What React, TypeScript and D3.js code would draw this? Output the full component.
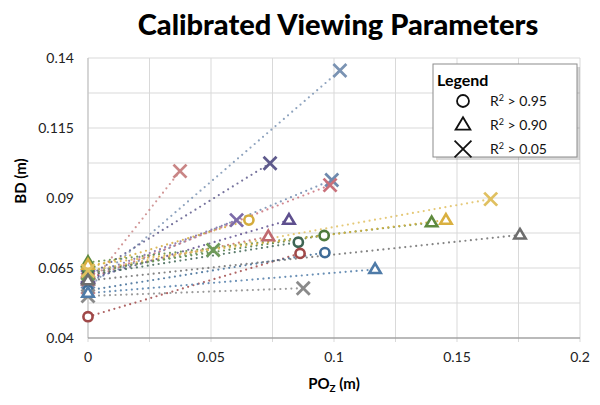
import React from "react";
import * as d3 from "d3";

const seriesMarker = ["x","x","x","x","x","x","o","t","t","o","o","o","o","x","x","t","t","t","x","t"];
const startY = [0.058,0.058,0.062,0.060,0.061,0.062,0.065,0.061,0.063,0.064,0.0625,0.0476,0.057,0.055,0.063,0.056,0.067,0.066,0.064,0.0605];
const endX = [0.1024,0.0374,0.074,0.0991,0.0984,0.0604,0.0654,0.0817,0.0733,0.096,0.0855,0.0862,0.0963,0.0875,0.0509,0.1167,0.1397,0.1455,0.1637,0.1756];
const endY = [0.1355,0.0996,0.1024,0.0964,0.0946,0.0821,0.0821,0.0821,0.0762,0.0766,0.0742,0.0702,0.0705,0.0578,0.0714,0.0645,0.0812,0.0821,0.0896,0.0768];
const palette = ["#7A93B3","#C98585","#5E5A8C","#6F8AAE","#C9707A","#7C6BA8","#D4AC3C","#5E4F8E","#C06A70","#4E7A3C","#3E6554","#A04848","#3F6C97","#8A8A8A","#6E9A5A","#4F7BA8","#5E8A3E","#D9B040","#E0C060","#6E6E6E"];
const xTicks = [0, 0.05, 0.1, 0.15, 0.2];
const yTicks = [0.04, 0.065, 0.09, 0.115, 0.14];
const legendLabels = ["0.95", "0.90", "0.05"];
const legendMarkers = ["o", "t", "x"];

function Marker({ type, x, y, color, s = 1, sw }: { type: string; x: number; y: number; color: string; s?: number; sw?: number }) {
  if (type === "o") {
    return <circle cx={x} cy={y} r={4.6 * s} fill="white" stroke={color} strokeWidth={sw ?? 2.6} />;
  }
  if (type === "t") {
    const r = 6 * s;
    const pts = [[x, y - r], [x + r * 0.95, y + r * 0.6], [x - r * 0.95, y + r * 0.6]];
    return <polygon points={pts.map(p => p.join(",")).join(" ")} fill="white" stroke={color} strokeWidth={sw ?? 2.6} strokeLinejoin="miter" />;
  }
  const h = 6.5 * s;
  return (
    <g stroke={color} strokeWidth={sw ?? 2.8} strokeLinecap="butt">
      <line x1={x - h} y1={y - h} x2={x + h} y2={y + h} />
      <line x1={x - h} y1={y + h} x2={x + h} y2={y - h} />
    </g>
  );
}

export default function App() {
  const W = 600, H = 405;
  const x = d3.scaleLinear().domain([0, 0.2]).range([88, 580]);
  const y = d3.scaleLinear().domain([0.04, 0.14]).range([338, 58]);
  const xGrid = d3.range(0, 0.2001, 0.025);
  const yGrid = d3.range(0.04, 0.1401, 0.0125);
  const font = "Lato, 'Open Sans', sans-serif";
  const line = d3.line<[number, number]>().x(d => x(d[0])).y(d => y(d[1]));
  const idx = d3.range(endX.length);
  return (
    <svg width={W} height={H} style={{ position: "absolute", left: 0, top: 0, background: "white" }} fontFamily={font}>
      <rect width={W} height={H} fill="white" />
      <text x={338} y={35} textAnchor="middle" fontSize={29} fontWeight="900" fill="#000">Calibrated Viewing Parameters</text>
      {xGrid.map((v, i) => <line key={"gx" + i} x1={x(v)} x2={x(v)} y1={y(0.14)} y2={y(0.04) + 4} stroke="#D9D9D9" strokeWidth={1} />)}
      {yGrid.map((v, i) => <line key={"gy" + i} x1={x(0)} x2={x(0.2)} y1={y(v)} y2={y(v)} stroke="#D9D9D9" strokeWidth={1} />)}
      <line x1={x(0)} x2={x(0)} y1={y(0.14)} y2={y(0.04)} stroke="#BFBFBF" />
      <line x1={x(0)} x2={x(0.2)} y1={y(0.04)} y2={y(0.04)} stroke="#888" strokeWidth={1.2} />
      {yTicks.map((v, i) => <text key={"yt" + i} x={74} y={y(v) + 5} textAnchor="end" fontSize={14} fill="#222">{v}</text>)}
      {xTicks.map((v, i) => <text key={"xt" + i} x={x(v)} y={362} textAnchor="middle" fontSize={14} fill="#222">{v}</text>)}
      <text transform="translate(26,181) rotate(-90)" textAnchor="middle" fontSize={15} fontWeight="bold">BD (m)</text>
      <text x={334} y={389} textAnchor="middle" fontSize={15} fontWeight="bold">PO<tspan fontSize={10} dy={3}>Z</tspan><tspan dy={-3}> (m)</tspan></text>
      {idx.map(i => (
        <path key={"l" + i} d={line([[0, startY[i]], [endX[i], endY[i]]]) || ""} fill="none" stroke={palette[i]} strokeWidth={2.2} strokeDasharray="0 5.5" strokeLinecap="round" opacity={0.85} />
      ))}
      {idx.map(i => <Marker key={"s" + i} type={seriesMarker[i]} x={x(0)} y={y(startY[i])} color={palette[i]} />)}
      {idx.map(i => <Marker key={"e" + i} type={seriesMarker[i]} x={x(endX[i])} y={y(endY[i])} color={palette[i]} />)}
      <g>
        <rect x={436} y={67} width={144} height={93} fill="#000" opacity={0.15} />
        <rect x={433} y={64} width={144} height={93} fill="white" stroke="#8C8C8C" strokeWidth={1} />
        <text x={437} y={86} fontSize={16} fontWeight="bold">Legend</text>
        {legendLabels.map((l, i) => (
          <g key={"lg" + i}>
            <Marker type={legendMarkers[i]} x={463} y={101 + i * 24} color="#111" s={1.3} sw={1.8} />
            <text x={490} y={106 + i * 24} fontSize={14} fill="#111">R<tspan fontSize={9} dy={-5}>2</tspan><tspan dy={5}> &gt; {l}</tspan></text>
          </g>
        ))}
      </g>
    </svg>
  );
}
